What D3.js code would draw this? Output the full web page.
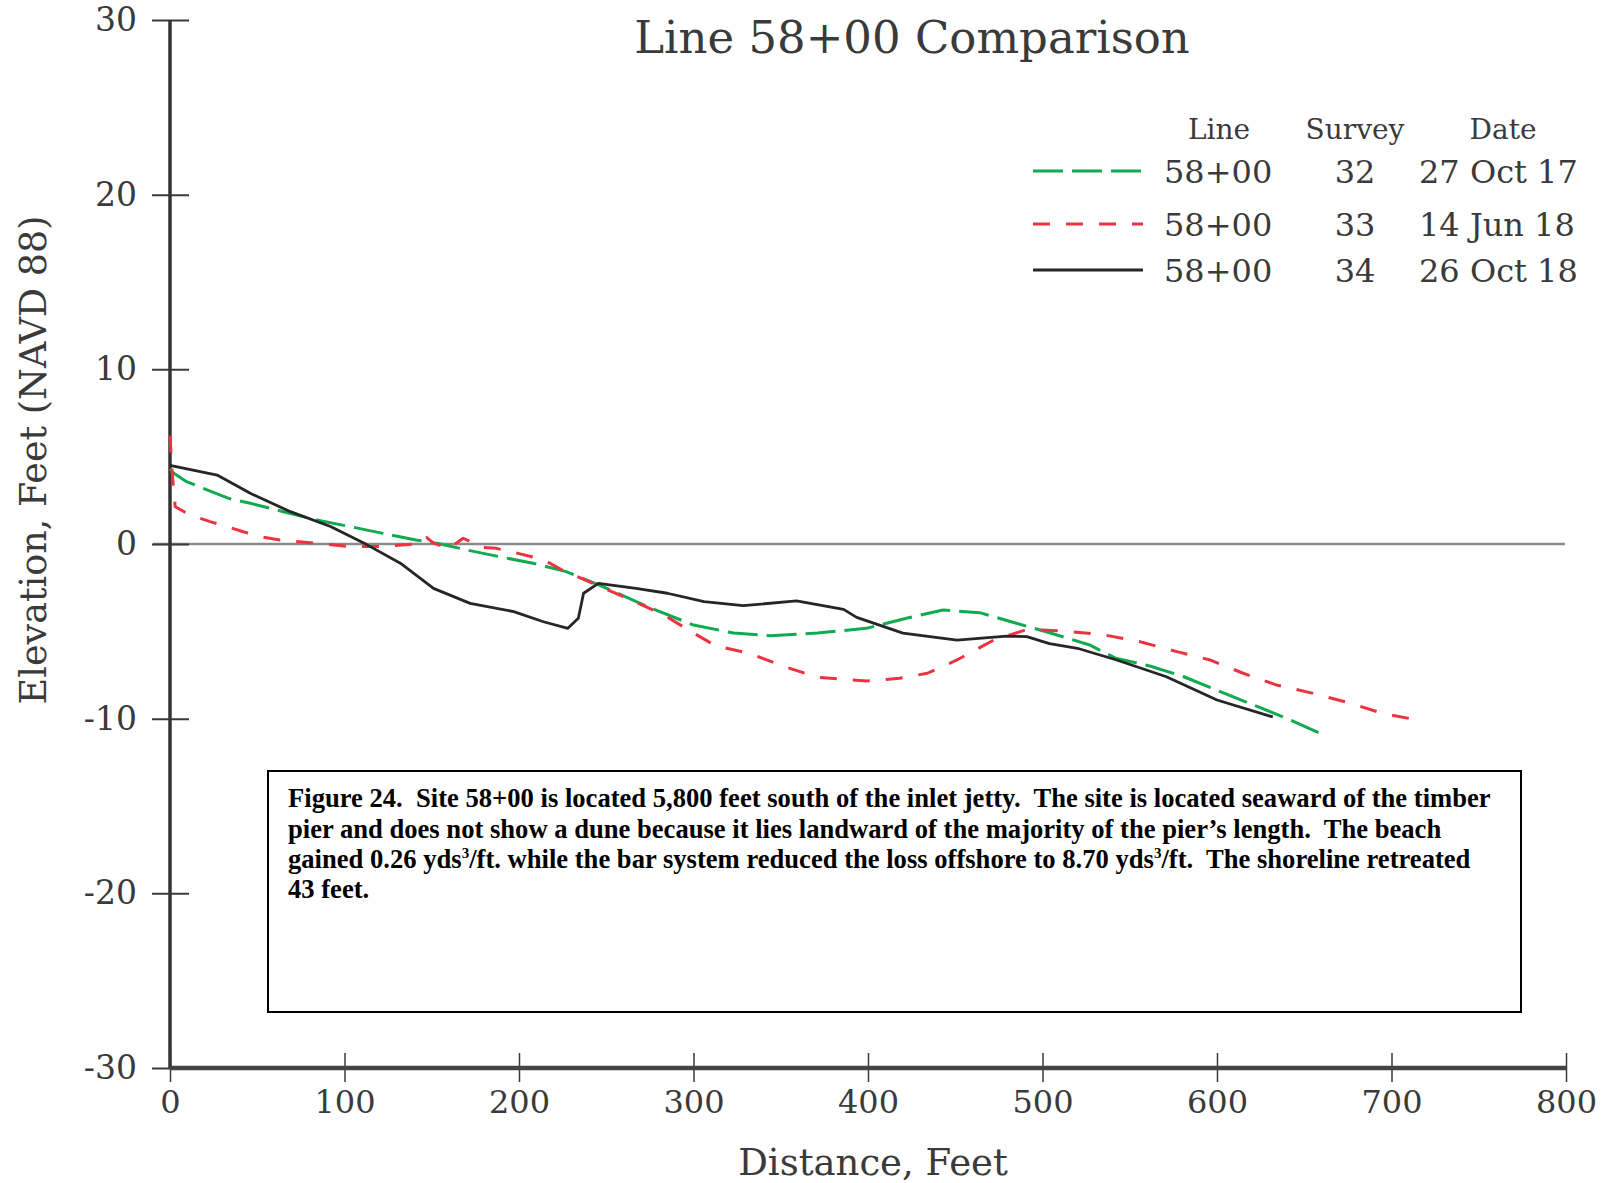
<!DOCTYPE html>
<html><head><meta charset="utf-8">
<script src="https://cdn.jsdelivr.net/npm/d3@7"></script>
<style>body{margin:0;background:#fff}svg{display:block}</style>
</head><body><svg id="c" width="1606" height="1183"></svg>
<script>
// Data
const survey32Dist = [0, 2, 9.5, 19, 34, 46, 65, 84, 103, 122, 141, 155, 170, 189, 208, 227, 246, 275, 300, 323, 344, 371, 399, 422, 443, 464, 485, 504, 527, 542, 562, 581, 609, 638, 659];
const survey32Elev = [4.3, 4.06, 3.57, 3.19, 2.6, 2.33, 1.85, 1.37, 1.0, 0.61, 0.23, 0, -0.34, -0.73, -1.1, -1.58, -2.35, -3.65, -4.64, -5.1, -5.25, -5.1, -4.83, -4.25, -3.78, -3.93, -4.54, -5.08, -5.78, -6.54, -7.0, -7.6, -8.74, -9.9, -10.84];
const survey33Dist = [0, 1, 2, 3, 11.5, 23, 32.5, 42, 51.6, 63, 84, 103, 122, 140, 147, 151, 160, 168, 179, 187, 200, 214, 225, 241, 264, 283, 300, 313, 332, 351.5, 371, 399, 418, 434, 451, 472, 489, 499, 514, 535, 556, 577, 596, 615, 634, 655, 676, 695, 714.5];
const survey33Elev = [6.2, 4.4, 3.2, 2.13, 1.66, 1.28, 1.0, 0.7, 0.42, 0.23, 0.04, -0.15, -0.15, 0.0, 0.38, 0.05, -0.25, 0.33, -0.2, -0.25, -0.55, -0.9, -1.5, -2.2, -3.2, -4.06, -5.1, -5.84, -6.26, -7.0, -7.63, -7.84, -7.69, -7.4, -6.64, -5.5, -4.96, -4.92, -5.0, -5.2, -5.6, -6.16, -6.64, -7.4, -8.07, -8.55, -9.1, -9.7, -10.07];
const survey34Dist = [0, 27, 46, 69, 92, 113, 132, 151, 172, 197, 214, 228, 234, 237, 245.5, 267, 285, 306, 328.5, 359, 386, 393.5, 420, 451, 479.5, 491, 504, 520, 542.5, 571, 600, 632];
const survey34Elev = [4.5, 3.95, 2.9, 1.85, 1.0, -0.05, -1.1, -2.54, -3.4, -3.87, -4.45, -4.83, -4.25, -2.82, -2.25, -2.54, -2.82, -3.3, -3.53, -3.26, -3.74, -4.2, -5.1, -5.5, -5.27, -5.3, -5.7, -5.97, -6.64, -7.6, -8.93, -9.9];
const xTicks = [0, 100, 200, 300, 400, 500, 600, 700, 800];
const yTicks = [30, 20, 10, 0, -10, -20, -30];
const legendLine = ["58+00", "58+00", "58+00"];
const legendSurvey = ["32", "33", "34"];
const legendDate = ["27 Oct 17", "14 Jun 18", "26 Oct 18"];
const captionLines = [
  [["Figure 24.  Site 58+00 is located 5,800 feet south of the inlet jetty.  The site is located seaward of the timber", false]],
  [["pier and does not show a dune because it lies landward of the majority of the pier\u2019s length.  The beach", false]],
  [["gained 0.26 yds", false], ["3", true], ["/ft. while the bar system reduced the loss offshore to 8.70 yds", false], ["3", true], ["/ft.  The shoreline retreated", false]],
  [["43 feet.", false]]
];

const svg = d3.select("#c");
const FONT = "'DejaVu Serif', serif";
const x = d3.scaleLinear().domain([0, 800]).range([170, 1566]);
const y = d3.scaleLinear().domain([-30, 30]).range([1068, 20]);
const fmt = d => String(d);

// zero line
svg.append("line").attr("x1", 153).attr("x2", 1565).attr("y1", y(0)).attr("y2", y(0))
  .attr("stroke", "#8a8a8a").attr("stroke-width", 2.5);

// Y axis
const yAxis = svg.append("g").attr("transform", `translate(${x(0)},0)`)
  .call(d3.axisLeft(y).tickValues(yTicks).tickSize(0).tickPadding(33).tickFormat(fmt));
yAxis.select(".domain").remove();
yAxis.selectAll("text").attr("font-family", FONT).attr("font-size", 33).attr("fill", "#3a3a3a");
yAxis.selectAll(".tick").append("line").attr("x1", -18).attr("x2", 19).attr("stroke", "#3a3a3a").attr("stroke-width", 2);
svg.append("line").attr("x1", x(0)).attr("x2", x(0)).attr("y1", y(30)).attr("y2", y(-30))
  .attr("stroke", "#333").attr("stroke-width", 3.5);

// X axis
const xAxis = svg.append("g").attr("transform", `translate(0,${y(-30)})`)
  .call(d3.axisBottom(x).tickValues(xTicks).tickSize(0).tickPadding(22).tickFormat(fmt));
xAxis.select(".domain").remove();
xAxis.selectAll("text").attr("font-family", FONT).attr("font-size", 32).attr("fill", "#3a3a3a");
xAxis.selectAll(".tick").append("line").attr("y1", -15).attr("y2", 14).attr("stroke", "#3a3a3a").attr("stroke-width", 1.5);
svg.append("line").attr("x1", x(0)).attr("x2", x(800)).attr("y1", y(-30)).attr("y2", y(-30))
  .attr("stroke", "#444").attr("stroke-width", 4.5);

// axis titles
svg.append("text").attr("x", 873).attr("y", 1175).attr("text-anchor", "middle")
  .attr("font-family", FONT).attr("font-size", 37).attr("fill", "#3a3a3a").text("Distance, Feet");
svg.append("text").attr("transform", "translate(46,460) rotate(-90)").attr("text-anchor", "middle")
  .attr("font-family", FONT).attr("font-size", 36.5).attr("fill", "#3a3a3a").text("Elevation, Feet (NAVD 88)");

// title
svg.append("text").attr("x", 912).attr("y", 53).attr("text-anchor", "middle")
  .attr("font-family", FONT).attr("font-size", 45).attr("fill", "#3a3a3a").text("Line 58+00 Comparison");

// series
const line = d3.line().x(d => x(d[0])).y(d => y(d[1]));
const series = [
  {dist: survey32Dist, elev: survey32Elev, color: "#10aa50", dash: "30,9", w: 3},
  {dist: survey33Dist, elev: survey33Elev, color: "#ee3340", dash: "17,16", w: 3},
  {dist: survey34Dist, elev: survey34Elev, color: "#262626", dash: null, w: 2.8}
];
series.forEach(s => {
  svg.append("path").datum(s.dist.map((d, i) => [d, s.elev[i]]))
    .attr("d", line).attr("fill", "none").attr("stroke", s.color)
    .attr("stroke-width", s.w).attr("stroke-dasharray", s.dash)
    .attr("stroke-linejoin", "round");
});

// legend
const lg = svg.append("g");
const headers = [["Line", 1219], ["Survey", 1355], ["Date", 1503]];
headers.forEach(h => lg.append("text").attr("x", h[1]).attr("y", 139).attr("text-anchor", "middle")
  .attr("font-family", FONT).attr("font-size", 28).attr("fill", "#3a3a3a").text(h[0]));
const rowY = [171, 224, 270];
series.forEach((s, i) => {
  lg.append("line").attr("x1", 1033).attr("x2", 1143).attr("y1", rowY[i]).attr("y2", rowY[i])
    .attr("stroke", s.color).attr("stroke-width", s.w).attr("stroke-dasharray", s.dash);
  lg.append("text").attr("x", 1164).attr("y", rowY[i] + 12).attr("font-family", FONT).attr("font-size", 32)
    .attr("fill", "#3a3a3a").text(legendLine[i]);
  lg.append("text").attr("x", 1355).attr("y", rowY[i] + 12).attr("text-anchor", "middle").attr("font-family", FONT).attr("font-size", 32)
    .attr("fill", "#3a3a3a").text(legendSurvey[i]);
  lg.append("text").attr("x", 1419).attr("y", rowY[i] + 12).attr("font-family", FONT).attr("font-size", 32)
    .attr("fill", "#3a3a3a").text(legendDate[i]);
});

// caption box
svg.append("rect").attr("x", 268).attr("y", 771).attr("width", 1253).attr("height", 241)
  .attr("fill", "#fff").attr("stroke", "#000").attr("stroke-width", 2);
const capY = [807, 838, 868, 898];
captionLines.forEach((parts, i) => {
  const t = svg.append("text").attr("x", 288).attr("y", capY[i])
    .attr("font-family", "'Liberation Serif', 'Times New Roman', serif").attr("font-weight", "bold")
    .attr("font-size", 26.6).attr("fill", "#000").attr("xml:space", "preserve").style("white-space", "pre");
  parts.forEach(p => {
    const ts = t.append("tspan").text(p[0]);
    if (p[1]) ts.attr("font-size", 15).attr("dy", -10);
    else if (t.selectAll("tspan").size() > 1) ts.attr("dy", 10);
  });
});
</script></body></html>
